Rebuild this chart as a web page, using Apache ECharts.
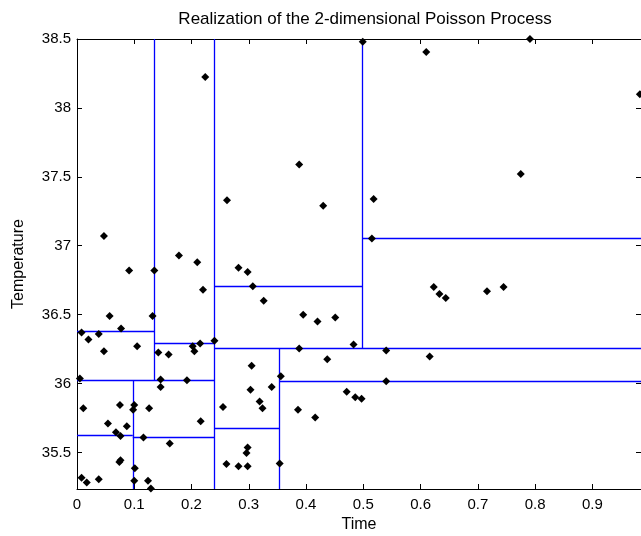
<!DOCTYPE html>
<html>
<head>
<meta charset="utf-8">
<script src="https://cdn.jsdelivr.net/npm/echarts@6/dist/echarts.min.js"></script>
<style>
  html, body { margin: 0; padding: 0; background: #fff; }
  #chart { width: 641px; height: 536px; }
</style>
</head>
<body>
<div id="chart"></div>
<script>
// Event times (x) and temperatures (y) of the realized Poisson points
const times = [
  0.224, 0.388, 0.610, 0.791, 0.983, 0.775, 0.262, 0.047, 0.178, 0.210,
  0.091, 0.135, 0.282, 0.298, 0.307, 0.326, 0.220, 0.057, 0.132, 0.077,
  0.008, 0.020, 0.038, 0.240, 0.430, 0.518, 0.515, 0.395, 0.420, 0.451,
  0.623, 0.633, 0.644, 0.716, 0.745, 0.105, 0.047, 0.142, 0.160, 0.202,
  0.205, 0.215, 0.005, 0.146, 0.146, 0.192, 0.011, 0.075, 0.100, 0.098,
  0.126, 0.054, 0.087, 0.068, 0.076, 0.216, 0.116, 0.162, 0.076, 0.074,
  0.101, 0.008, 0.017, 0.038, 0.100, 0.124, 0.129, 0.255, 0.305, 0.303,
  0.319, 0.324, 0.298, 0.296, 0.261, 0.282, 0.298, 0.388, 0.483, 0.540,
  0.616, 0.437, 0.356, 0.340, 0.540, 0.471, 0.486, 0.497, 0.386, 0.416,
  0.354, 0.499
];
const temps = [
  38.225, 37.59, 38.405, 38.50, 38.10, 37.52, 37.33, 37.07, 36.93, 36.88,
  36.82, 36.82, 36.84, 36.81, 36.706, 36.60, 36.68, 36.49, 36.49, 36.40,
  36.37, 36.32, 36.36, 36.31, 37.29, 37.34, 37.053, 36.50, 36.45, 36.48,
  36.70, 36.65, 36.62, 36.67, 36.70, 36.27, 36.235, 36.225, 36.21, 36.27,
  36.235, 36.29, 36.036, 36.03, 35.975, 36.024, 35.82, 35.844, 35.844, 35.81,
  35.82, 35.71, 35.69, 35.647, 35.62, 35.727, 35.609, 35.565, 35.443, 35.43,
  35.385, 35.317, 35.283, 35.305, 35.295, 35.295, 35.239, 35.83, 36.13, 35.956,
  35.87, 35.82, 35.536, 35.497, 35.417, 35.40, 35.40, 36.255, 36.284, 36.24,
  36.196, 36.177, 36.053, 35.975, 36.016, 35.94, 35.90, 35.89, 35.81, 35.754,
  35.42, 38.48
];

// Partition cells: vertical splits [time, tempFrom, tempTo]
const verticalSplits = [
  [0.2402, 35.235, 38.5],
  [0.1346, 36.024, 38.5],
  [0.0974, 35.235, 36.024],
  [0.4988, 36.255, 38.5],
  [0.3537, 35.235, 36.255]
];
// Horizontal splits [temp, timeFrom, timeTo]
const horizontalSplits = [
  [36.024, 0, 0.2402],
  [36.38, 0, 0.1346],
  [36.29, 0.1346, 0.2402],
  [35.628, 0, 0.0974],
  [35.609, 0.0974, 0.2402],
  [36.255, 0.2402, 0.985],
  [36.706, 0.2402, 0.4988],
  [37.053, 0.4988, 0.985],
  [35.676, 0.2402, 0.3537],
  [36.016, 0.3537, 0.985]
];

// Axis ranges and tick labels
const xMin = 0, xMax = 0.985;
const yMin = 35.235, yMax = 38.5;
const xTicks = [0, 0.1, 0.2, 0.3, 0.4, 0.5, 0.6, 0.7, 0.8, 0.9];
const yTicks = [35.5, 36, 36.5, 37, 37.5, 38, 38.5];

const points = times.map((t, i) => [t, temps[i]]);
const segments = [
  ...verticalSplits.map(([x, y0, y1]) => ({ coords: [[x, y0], [x, y1]] })),
  ...horizontalSplits.map(([y, x0, x1]) => ({ coords: [[x0, y], [x1, y]] }))
];

const FONT = 'Liberation Sans';
const axisColor = '#000';

function baseAxis(extra) {
  return Object.assign({
    type: 'value',
    axisLine: { show: true, onZero: false, lineStyle: { color: axisColor, width: 1 } },
    splitLine: { show: false }
  }, extra);
}

const chart = echarts.init(document.getElementById('chart'), null, { renderer: 'canvas' });
chart.setOption({
  animation: false,
  backgroundColor: '#fff',
  title: {
    text: 'Realization of the 2-dimensional Poisson Process',
    left: 360, top: 6, textAlign: 'center',
    textStyle: { fontFamily: FONT, fontSize: 17, fontWeight: 'normal', color: '#000' }
  },
  grid: { left: 77, right: 0, top: 39, bottom: 47, containLabel: false, outerBoundsMode: 'none' },
  xAxis: [
    baseAxis({
      min: xMin, max: xMax, position: 'bottom',
      name: 'Time', nameLocation: 'middle', nameGap: 27,
      nameTextStyle: { fontFamily: FONT, fontSize: 16, color: '#000' },
      axisTick: { show: true, inside: true, length: 5, customValues: xTicks, lineStyle: { color: axisColor } },
      axisLabel: { show: true, customValues: xTicks, margin: 8, fontFamily: FONT, fontSize: 15, color: '#000',
        formatter: v => String(v) }
    }),
    baseAxis({
      min: xMin, max: xMax, position: 'top',
      axisTick: { show: true, inside: true, length: 5, customValues: xTicks, lineStyle: { color: axisColor } },
      axisLabel: { show: false }
    })
  ],
  yAxis: [
    baseAxis({
      min: yMin, max: yMax, position: 'left',
      name: 'Temperature', nameLocation: 'middle', nameGap: 50, nameRotate: 90,
      nameTextStyle: { fontFamily: FONT, fontSize: 16, color: '#000' },
      axisTick: { show: true, inside: true, length: 5, customValues: yTicks, lineStyle: { color: axisColor } },
      axisLabel: { show: true, customValues: yTicks, margin: 6, fontFamily: FONT, fontSize: 15, color: '#000',
        formatter: v => String(v) }
    }),
    baseAxis({
      min: yMin, max: yMax, position: 'right',
      axisTick: { show: true, inside: true, length: 5, customValues: yTicks, lineStyle: { color: axisColor } },
      axisLabel: { show: false }
    })
  ],
  series: [
    {
      type: 'lines',
      coordinateSystem: 'cartesian2d',
      xAxisIndex: 0, yAxisIndex: 0,
      polyline: false,
      silent: true,
      z: 2,
      lineStyle: { color: '#0000ff', width: 1.3, opacity: 1, curveness: 0 },
      data: segments
    },
    {
      type: 'scatter',
      xAxisIndex: 0, yAxisIndex: 0,
      symbol: 'diamond',
      symbolSize: 8,
      clip: false,
      z: 3,
      itemStyle: { color: '#000', opacity: 1 },
      data: points
    }
  ]
});
</script>
</body>
</html>
